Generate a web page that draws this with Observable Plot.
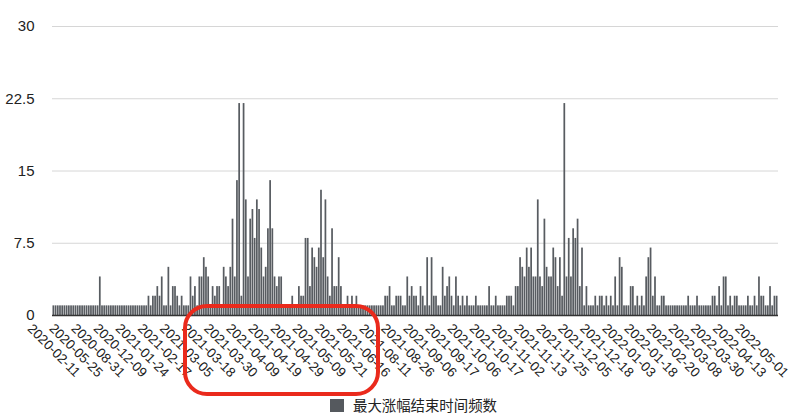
<!DOCTYPE html>
<html>
<head>
<meta charset="utf-8">
<script src="https://cdn.jsdelivr.net/npm/d3@7"></script>
<script src="https://cdn.jsdelivr.net/npm/@observablehq/plot@0.6"></script>
<style>
  html, body { margin: 0; padding: 0; background: #fff; }
  #wrap { position: relative; width: 800px; height: 418px; overflow: hidden; font-family: "Liberation Sans", Arial, sans-serif; }
  #legend { position: absolute; left: 330px; top: 396px; display: flex; align-items: center; height: 18px; }
  #legend .sw { width: 14px; height: 13px; background: #55595e; margin-right: 9px; }
  #legend .lb { font-family: "Noto Sans CJK SC", sans-serif; font-size: 14.4px; color: #222; line-height: 18px; }
  #box { position: absolute; left: 183px; top: 304px; width: 197px; height: 92px; border: 4px solid #ea2a1c; border-radius: 24px; box-sizing: border-box; pointer-events: none; }
</style>
</head>
<body>
<div id="wrap">
  <div id="chart"></div>
  <div id="legend"><div class="sw"></div><div class="lb">最大涨幅结束时间频数</div></div>
  <div id="box"></div>
</div>
<script>
// Frequency of max-gain end dates, one bar per date
const values = [
  1,1,1,1,1,1,1,1,1,1, 1,1,1,1,1,1,1,1,1,1, 1,4,1,1,1,1,1,1,1,1, 1,1,1,1,1,1,
  1,1,1,1,1,1,1,2,1,2, 2,3,2,4,
  1,1,5,1,3,3,2,1,2,1,
  1,1,4,2,3,1,4,4,6,5,
  4,1,3,2,3,3,1,5,4,3,
  5,10,4,14,22,2,22,12,4,10,
  11,8,12,11,7,4,5,9,14,9,
  4,3,4,4,1,1,1,1,2,1,
  1,3,2,2,8,8,3,7,6,5,
  7,13,6,12,4,2,9,3,3,6,
  3,1,1,2,1,2,1,2,1,1,
  1,1,1,1,1,1,1,1,1,1,
  2,2,3,1,1,2,2,2,1,1,
  4,2,3,2,2,1,3,2,1,6,
  1,6,2,2,1,1,5,2,3,4,
  2,1,4,2,1,2,1,2,1,1,
  1,2,1,1,1,1,1,3,1,1,
  2,1,1,1,1,2,2,2,1,3,
  3,6,5,4,7,5,7,4,4,12,
  4,3,10,5,4,4,7,6,3,6,
  2,22,4,8,4,9,8,10,3,7,
  1,3,1,1,1,2,1,2,2,1,
  2,1,2,1,4,1,6,5,1,1,
  1,3,3,1,2,1,2,1,4,6,
  7,2,4,1,1,2,2,1,1,1,
  1,1,1,1,1,1,1,2,1,1,
  1,2,1,1,1,1,1,1,2,2,
  1,3,1,4,4,1,2,1,2,2,
  1,1,1,1,2,1,1,2,1,4,
  2,2,1,1,3,1,2,2
];

// Every 10th date is labelled on the x axis
const tickLabels = [
  "2020-02-11","2020-05-25","2020-08-31","2020-12-09","2021-01-24","2021-02-17",
  "2021-03-05","2021-03-18","2021-03-30","2021-04-09","2021-04-19","2021-04-29",
  "2021-05-09","2021-05-21","2021-06-16","2021-08-11","2021-08-26","2021-09-06",
  "2021-09-17","2021-10-06","2021-10-17","2021-11-02","2021-11-13","2021-11-25",
  "2021-12-05","2021-12-18","2022-01-03","2022-01-18","2022-02-20","2022-03-08",
  "2022-03-30","2022-04-13","2022-05-01"
];
const tickStep = 10;
const yTicks = [0, 7.5, 15, 22.5, 30];

const data = values.map((v, i) => ({i, v}));
const tickIdx = tickLabels.map((_, k) => k * tickStep);

const chart = Plot.plot({
  width: 800,
  height: 390,
  marginTop: 26,
  marginBottom: 75,
  marginLeft: 52,
  marginRight: 22,
  style: {fontFamily: "'Liberation Sans', Arial, sans-serif", color: "#222", background: "#fff", overflow: "visible"},
  x: {type: "band", domain: d3.range(values.length), padding: 0.22, label: null},
  y: {domain: [0, 30], label: null},
  marks: [
    Plot.gridY(yTicks.filter(d => d > 0), {stroke: "#d6d6d6", strokeOpacity: 1, strokeWidth: 1}),
    Plot.barY(data, {x: "i", y: "v", fill: "#585c61"}),
    Plot.ruleY([0], {stroke: "#333", strokeWidth: 1.5}),
    Plot.axisY(yTicks, {tickSize: 0, tickPadding: 18, fontSize: 15, tickFormat: d => String(d), label: null}),
    Plot.axisX(tickIdx, {
      tickSize: 0, tickPadding: 35, tickRotate: 45,
      textAnchor: "middle", lineAnchor: "middle",
      fontSize: 13.5, label: null,
      tickFormat: i => tickLabels[i / tickStep]
    })
  ]
});
document.getElementById("chart").appendChild(chart);
</script>
</body>
</html>
